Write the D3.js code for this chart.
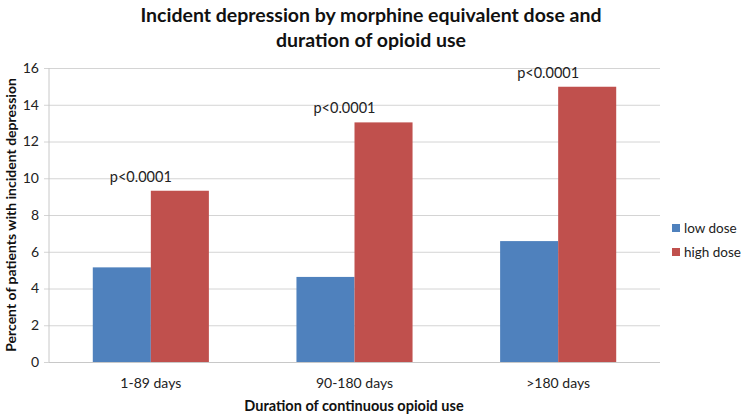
<!DOCTYPE html>
<html><head><meta charset="utf-8">
<script src="https://cdn.jsdelivr.net/npm/d3@7"></script>
<style>body{margin:0;background:#fff}svg{display:block}text{font-family:Lato,"Open Sans",sans-serif}</style>
</head><body>
<svg id="c" width="742" height="414"></svg>
<script>
const categories = ["1-89 days", "90-180 days", ">180 days"];
const seriesNames = ["low dose", "high dose"];
const lowDose = [5.15, 4.63, 6.58];
const highDose = [9.32, 13.04, 14.98];
const pLabels = ["p<0.0001", "p<0.0001", "p<0.0001"];
const yTicks = [0, 2, 4, 6, 8, 10, 12, 14, 16];
const titleLines = ["Incident depression by morphine equivalent dose and", "duration of opioid use"];
const colors = ["#4F81BD", "#C0504D"];

const svg = d3.select("#c");
const m = {left: 49, right: 660, top: 68, bottom: 362};
const x = d3.scaleBand().domain(categories).range([m.left, m.right]).paddingInner(0.43).paddingOuter(0.215);
const xs = d3.scaleBand().domain(seriesNames).range([0, x.bandwidth()]);
const y = d3.scaleLinear().domain([0, 16]).range([m.bottom, m.top]);

// gridlines
const yAxis = d3.axisLeft(y).tickValues(yTicks).tickSize(-(m.right - m.left)).tickSizeOuter(0).tickPadding(10);
const ga = svg.append("g").attr("transform", `translate(${m.left},0)`).call(yAxis);
ga.select(".domain").remove();
ga.selectAll(".tick line").attr("stroke", "#d4d4d4").attr("x1", -5);
ga.selectAll(".tick text").attr("font-size", 14).attr("fill", "#222");
svg.append("line").attr("x1", m.left).attr("x2", m.left).attr("y1", m.top).attr("y2", m.bottom).attr("stroke", "#c8c8c8");

// bars
const data = categories.map((c, i) => ({c, v: [lowDose[i], highDose[i]]}));
const groups = svg.append("g").selectAll("g").data(data).join("g").attr("transform", d => `translate(${x(d.c)},0)`);
groups.selectAll("rect").data(d => d.v.map((v, j) => ({s: seriesNames[j], v, j}))).join("rect")
  .attr("x", d => xs(d.s)).attr("width", xs.bandwidth())
  .attr("y", d => y(d.v)).attr("height", d => y(0) - y(d.v))
  .attr("fill", d => colors[d.j]);

// x axis
svg.append("line").attr("x1", m.left).attr("x2", m.right).attr("y1", m.bottom + 0.5).attr("y2", m.bottom + 0.5).attr("stroke", "#c8c8c8");
svg.append("g").selectAll("text").data(categories).join("text")
  .attr("x", d => x(d) + x.bandwidth() / 2).attr("y", 388).attr("text-anchor", "middle")
  .attr("font-size", 14).attr("fill", "#222").text(d => d);

// p labels
svg.append("g").selectAll("text").data(pLabels).join("text")
  .attr("x", (d, i) => x(categories[i]) + xs("high dose") - 10)
  .attr("y", (d, i) => y(highDose[i]) - 9)
  .attr("text-anchor", "middle").attr("font-size", 14.5).attr("fill", "#222").text(d => d);

// titles
svg.append("g").selectAll("text").data(titleLines).join("text")
  .attr("x", 371).attr("y", (d, i) => 22 + i * 25).attr("text-anchor", "middle")
  .attr("font-size", 19.5).attr("font-weight", "bold").attr("fill", "#111").text(d => d);
svg.append("text").attr("transform", "translate(16,215) rotate(-90)").attr("text-anchor", "middle")
  .attr("font-size", 14).attr("font-weight", "bold").attr("fill", "#111").text("Percent of patients with incident depression");
svg.append("text").attr("x", 354).attr("y", 411).attr("text-anchor", "middle")
  .attr("font-size", 14.5).attr("font-weight", "bold").attr("fill", "#111").text("Duration of continuous opioid use");

// legend
const lg = svg.append("g").selectAll("g").data(seriesNames).join("g").attr("transform", (d, i) => `translate(672,${228 + i * 24})`);
lg.append("rect").attr("x", 0).attr("y", -4).attr("width", 8).attr("height", 8).attr("fill", (d, i) => colors[i]);
lg.append("text").attr("x", 12).attr("y", 5).attr("font-size", 13.5).attr("fill", "#222").text(d => d);
</script>
</body></html>
